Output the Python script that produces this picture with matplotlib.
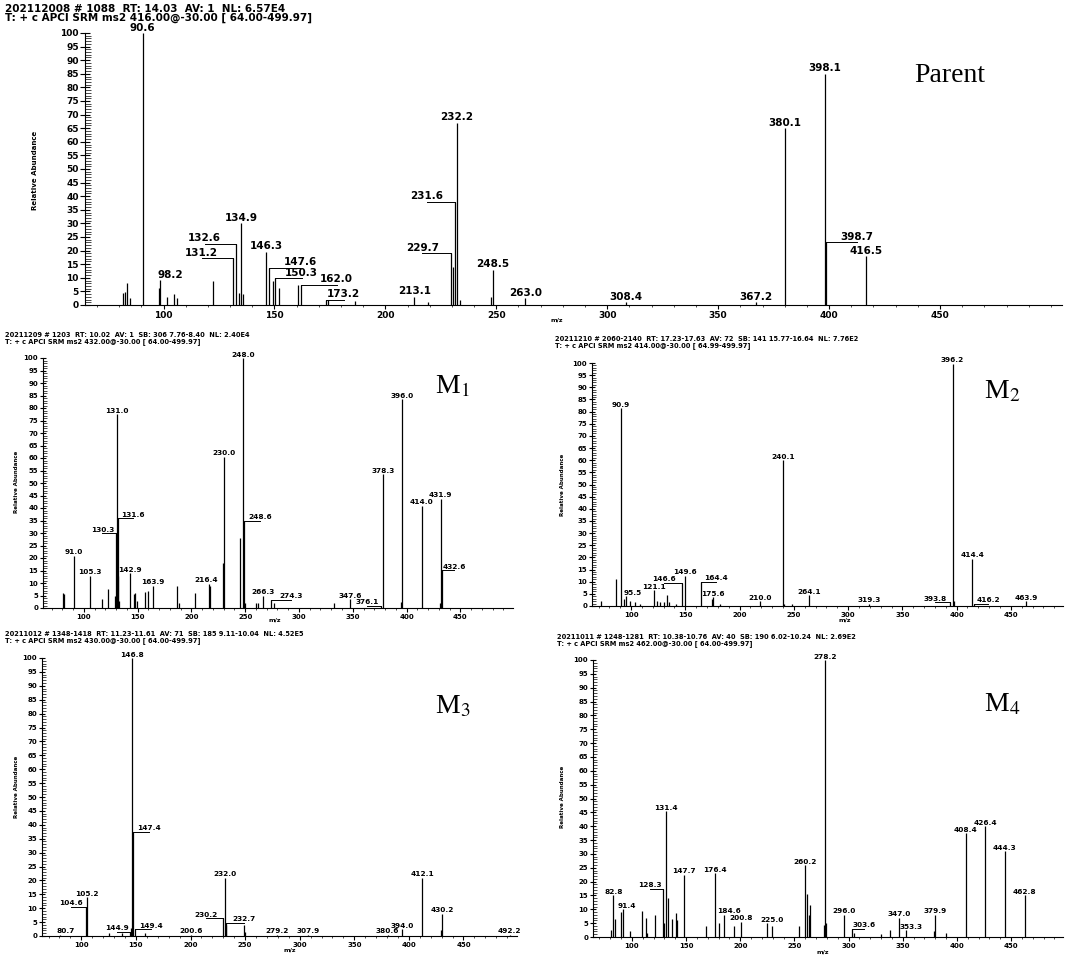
import matplotlib.pyplot as plt
from matplotlib.ticker import MultipleLocator, FixedLocator

plt.rcParams['font.family'] = 'DejaVu Sans'
plt.rcParams['mathtext.fontset'] = 'stix'

W, H = 1068, 957

# Parent spectrum (m/z, relative abundance, peak label)
parent_mz = [81.6, 82.7, 83.7, 84.9, 90.6, 97.8, 98.2, 101.7, 104.9, 105.9, 122.4,
             131.2, 132.6, 133.8, 134.9, 136.0, 146.3, 147.6, 149.2, 150.3, 152.2,
             160.5, 162.0, 173.2, 174.0, 186.3, 213.1, 219.0, 229.7, 230.5, 231.6,
             232.2, 233.5, 247.5, 248.5, 263.0, 308.4, 367.2, 380.1, 398.1, 398.7, 416.5]
parent_int = [4.4, 4.7, 8.0, 2.5, 100.0, 6.2, 9.2, 3.0, 4.0, 2.5, 9.0,
              17.2, 22.6, 4.4, 30.0, 4.0, 19.6, 13.7, 9.0, 9.9, 6.3,
              7.2, 7.4, 2.0, 2.0, 1.5, 3.0, 1.0, 19.0, 14.0, 38.0,
              67.0, 2.0, 3.0, 13.0, 2.5, 1.0, 1.0, 65.0, 85.0, 23.0, 18.0]
parent_lbl = ["", "", "", "", "90.6", "", "98.2", "", "", "", "",
              "131.2", "132.6", "", "134.9", "", "146.3", "147.6", "", "150.3", "",
              "", "162.0", "173.2", "", "", "213.1", "", "229.7", "", "231.6",
              "232.2", "", "", "248.5", "263.0", "308.4", "367.2", "380.1", "398.1", "398.7", "416.5"]

# M1
m1_mz = [80.8, 81.3, 91.0, 105.3, 116.5, 122.5, 128.5, 130.3, 131.0, 131.4, 131.6,
         132.5, 142.9, 146.5, 147.5, 149.0, 156.5, 160.0, 163.9, 186.5, 188.5,
         203.0, 216.4, 217.2, 229.6, 230.0, 245.5, 248.0, 248.6, 249.5, 260.5,
         262.0, 266.3, 274.3, 276.5, 333.0, 347.6, 376.1, 378.3, 394.5, 396.0,
         414.0, 431.0, 431.9, 432.6]
m1_int = [6.0, 5.5, 21.0, 13.0, 3.5, 7.7, 5.0, 30.0, 77.5, 13.0, 36.0,
          3.0, 14.0, 5.5, 6.0, 3.0, 6.5, 7.0, 9.0, 8.7, 2.0,
          6.0, 9.7, 9.0, 18.0, 60.5, 28.0, 100.0, 35.0, 2.0, 2.0,
          2.0, 5.0, 3.3, 2.0, 2.0, 3.5, 1.0, 53.5, 2.5, 83.5,
          41.0, 2.0, 43.7, 15.2]
m1_lbl = ["", "", "91.0", "105.3", "", "", "", "130.3", "131.0", "", "131.6",
          "", "142.9", "", "", "", "", "", "163.9", "", "",
          "", "216.4", "", "", "230.0", "", "248.0", "248.6", "", "",
          "", "266.3", "274.3", "", "", "347.6", "376.1", "378.3", "", "396.0",
          "414.0", "", "431.9", "432.6"]

# M2
m2_mz = [72.0, 86.0, 90.9, 93.5, 95.5, 99.0, 104.0, 108.0, 121.1, 124.0, 127.0,
         130.0, 133.5, 134.5, 141.0, 146.6, 149.6, 164.4, 175.0, 175.6, 182.0,
         219.0, 240.1, 241.0, 248.0, 264.1, 319.3, 393.8, 396.2, 397.5, 414.4,
         416.2, 463.9]
m2_int = [2.0, 11.0, 81.5, 3.0, 4.0, 2.0, 1.5, 1.0, 6.5, 2.0, 1.5,
          1.5, 4.5, 1.5, 0.8, 9.5, 12.5, 10.0, 3.0, 3.5, 1.0,
          2.0, 60.0, 1.0, 0.8, 4.5, 1.0, 1.5, 99.7, 2.0, 19.5,
          1.0, 2.0]
m2_lbl = ["", "", "90.9", "", "95.5", "", "", "", "121.1", "", "",
          "", "", "", "", "146.6", "149.6", "164.4", "", "175.6", "",
          "210.0", "240.1", "", "", "264.1", "319.3", "393.8", "396.2", "", "414.4",
          "416.2", "463.9"]

# M3
m3_mz = [80.7, 104.6, 105.2, 125.0, 137.0, 144.9, 145.8, 146.8, 147.4, 149.4, 158.0,
         200.6, 230.2, 232.0, 232.4, 232.7, 249.0, 250.0, 279.2, 307.9, 380.6,
         394.0, 412.1, 429.8, 430.2, 492.2]
m3_int = [0.5, 10.5, 14.0, 1.0, 1.0, 1.5, 3.0, 100.0, 37.5, 2.5, 1.0,
          0.5, 6.5, 21.0, 4.0, 4.8, 4.0, 1.5, 0.5, 0.5, 0.5,
          2.5, 21.0, 2.0, 8.0, 0.5]
m3_lbl = ["80.7", "104.6", "105.2", "", "", "144.9", "", "146.8", "147.4", "149.4", "",
          "200.6", "230.2", "232.0", "", "232.7", "", "", "279.2", "307.9", "380.6",
          "394.0", "412.1", "", "430.2", "492.2"]

# M4
m4_mz = [80.5, 82.8, 84.0, 90.0, 91.4, 98.5, 109.5, 112.5, 114.0, 121.5, 128.3,
         129.5, 131.4, 133.0, 136.5, 140.5, 142.0, 147.7, 168.5, 176.4, 180.5,
         184.6, 194.5, 200.8, 225.0, 229.5, 254.5, 260.2, 262.0, 263.0, 264.0,
         277.0, 278.2, 279.0, 296.0, 303.6, 305.0, 330.0, 338.0, 347.0, 353.3,
         379.0, 379.9, 390.0, 408.4, 426.4, 444.3, 462.8]
m4_int = [2.5, 15.0, 6.5, 9.0, 10.0, 2.0, 9.5, 7.0, 1.5, 8.0, 17.5,
          5.0, 45.5, 14.0, 6.5, 8.5, 6.0, 22.5, 4.0, 23.0, 5.0,
          8.0, 4.0, 5.5, 5.0, 4.0, 4.0, 26.0, 15.5, 8.0, 11.5,
          4.5, 100.0, 5.0, 8.0, 3.0, 1.5, 1.0, 2.5, 7.0, 2.5,
          2.0, 8.0, 1.5, 37.5, 40.0, 31.0, 15.0]
m4_lbl = ["", "82.8", "", "", "91.4", "", "", "", "", "", "128.3",
          "", "131.4", "", "", "", "", "147.7", "", "176.4", "",
          "184.6", "", "200.8", "225.0", "", "", "260.2", "", "", "",
          "", "278.2", "", "296.0", "303.6", "", "", "", "347.0", "353.3",
          "", "379.9", "", "408.4", "426.4", "444.3", "462.8"]

# label shifts (m/z units); big shifts get a leader line
parent_shift = {"98.2": 5, "131.2": -14, "132.6": -14, "147.6": 14, "150.3": 12,
                "162.0": 16, "173.2": 8, "229.7": -13, "231.6": -13, "398.7": 14}
m1_shift = {"130.3": -13, "131.6": 14, "248.6": 15, "274.3": 18, "376.1": -13,
            "432.6": 12, "216.4": -3}
m2_shift = {"95.5": 6, "146.6": -16, "164.4": 14, "393.8": -14, "416.2": 13}
m3_shift = {"80.7": 5, "104.6": -14, "144.9": -12, "147.4": 15, "149.4": 14,
            "230.2": -16, "232.7": 16}
m4_shift = {"91.4": 4, "128.3": -12, "184.6": 5, "225.0": 4, "303.6": 11, "353.3": 4}

headers = [
    ("202112008 # 1088  RT: 14.03  AV: 1  NL: 6.57E4",
     "T: + c APCI SRM ms2 416.00@-30.00 [ 64.00-499.97]"),
    ("20211209 # 1203  RT: 10.02  AV: 1  SB: 306 7.76-8.40  NL: 2.40E4",
     "T: + c APCI SRM ms2 432.00@-30.00 [ 64.00-499.97]"),
    ("20211210 # 2060-2140  RT: 17.23-17.63  AV: 72  SB: 141 15.77-16.64  NL: 7.76E2",
     "T: + c APCI SRM ms2 414.00@-30.00 [ 64.99-499.97]"),
    ("20211012 # 1348-1418  RT: 11.23-11.61  AV: 71  SB: 185 9.11-10.04  NL: 4.52E5",
     "T: + c APCI SRM ms2 430.00@-30.00 [ 64.00-499.97]"),
    ("20211011 # 1248-1281  RT: 10.38-10.76  AV: 40  SB: 190 6.02-10.24  NL: 2.69E2",
     "T: + c APCI SRM ms2 462.00@-30.00 [ 64.00-499.97]"),
]


def px_rect(left, right, top, bottom):
    return [left / W, 1 - bottom / H, (right - left) / W, (bottom - top) / H]


def draw(ax, mz, inten, labels, shifts, xlim, big=False):
    lab_fs = 7.5 if big else 5.3
    tick_fs = 6.5 if big else 5
    ax.vlines(mz, 0, inten, color='black', lw=0.9)
    for x, y, s in zip(mz, inten, labels):
        if not s:
            continue
        dx = shifts.get(s, 0)
        if abs(dx) >= 8:
            ax.plot([x, x + dx], [y, y], color='black', lw=0.7)
        ax.annotate(s, (x + dx, y), xytext=(0, 0.3), textcoords='offset points',
                    ha='center', va='bottom', fontsize=lab_fs, fontweight='bold')
    ax.set_xlim(*xlim)
    ax.set_ylim(0, 100)
    ax.spines['top'].set_visible(False)
    ax.spines['right'].set_visible(False)
    ax.patch.set_alpha(0)
    ax.xaxis.set_major_locator(FixedLocator(list(range(100, 500, 50))))
    ax.xaxis.set_minor_locator(MultipleLocator(10))
    ax.yaxis.set_major_locator(MultipleLocator(5))
    ax.yaxis.set_minor_locator(MultipleLocator(1))
    ax.tick_params(axis='y', which='major', direction='inout', length=7 if big else 5,
                   width=0.8, labelsize=tick_fs, pad=1)
    ax.tick_params(axis='y', which='minor', direction='in', length=4 if big else 3, width=0.5)
    ax.tick_params(axis='x', which='major', direction='out', length=3, width=0.8,
                   labelsize=tick_fs, pad=1)
    ax.tick_params(axis='x', which='minor', direction='out', length=1.5, width=0.5)
    for t in ax.get_xticklabels() + ax.get_yticklabels():
        t.set_fontweight('bold')


fig = plt.figure(figsize=(W / 100, H / 100), dpi=100)

ax0 = fig.add_axes(px_rect(85, 1062, 33, 305))
draw(ax0, parent_mz, parent_int, parent_lbl, parent_shift, (64.6, 505), big=True)
ax1 = fig.add_axes(px_rect(43, 513, 358, 608))
draw(ax1, m1_mz, m1_int, m1_lbl, m1_shift, (62, 499))
ax2 = fig.add_axes(px_rect(592, 1063, 363, 606))
draw(ax2, m2_mz, m2_int, m2_lbl, m2_shift, (64, 498))
ax3 = fig.add_axes(px_rect(42, 517, 658, 936))
draw(ax3, m3_mz, m3_int, m3_lbl, m3_shift, (64, 499))
ax4 = fig.add_axes(px_rect(593, 1063, 660, 937))
draw(ax4, m4_mz, m4_int, m4_lbl, m4_shift, (64, 498))

# header lines
head_pos = [(5, 9, 17.5, 7.5), (5, 335, 341.5, 4.8), (555, 339, 345.5, 4.8),
            (5, 634, 640.5, 4.8), (557, 637, 643.5, 4.8)]
for (l1, l2), (x, y1, y2, fs) in zip(headers, head_pos):
    fig.text(x / W, 1 - y1 / H, l1, fontsize=fs, fontweight='bold', va='center')
    fig.text(x / W, 1 - y2 / H, l2, fontsize=fs, fontweight='bold', va='center')

# y axis titles and m/z labels
for x, y, fs in [(35, 170, 5), (16, 482, 4), (563, 485, 4), (16, 787, 4), (563, 797, 4)]:
    fig.text(x / W, 1 - y / H, 'Relative Abundance', rotation=90, fontsize=fs,
             fontweight='bold', ha='center', va='center')
for x, y in [(557, 320), (275, 620), (845, 620), (290, 950), (823, 952)]:
    fig.text(x / W, 1 - y / H, 'm/z', fontsize=4.5, fontweight='bold', ha='center', va='center')

# panel names
panel_names = ["Parent", r"M$_1$", r"M$_2$", r"M$_3$", r"M$_4$"]
for s, (x, y) in zip(panel_names, [(950, 75), (452, 387), (1002, 392), (453, 707), (1002, 705)]):
    fig.text(x / W, 1 - y / H, s, fontsize=20, family='Liberation Serif',
             ha='center', va='center')

fig.savefig('out.png', dpi=100)
